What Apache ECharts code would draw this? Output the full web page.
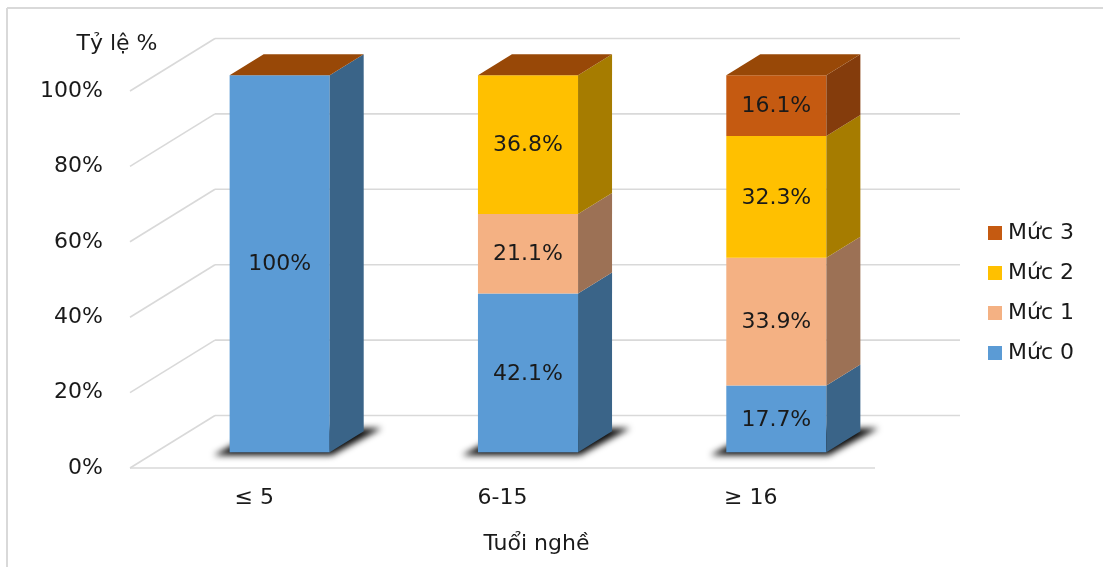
<!DOCTYPE html>
<html>
<head>
<meta charset="utf-8">
<title>Tuổi nghề</title>
<script src="https://cdn.jsdelivr.net/npm/echarts@6/dist/echarts.min.js"></script>
<style>
  html, body { margin: 0; padding: 0; background: #ffffff; }
  #chart { width: 1103px; height: 567px; }
</style>
</head>
<body>
<div id="chart"></div>
<script>
// Data
const categories = ['≤ 5', '6-15', '≥ 16'];
const seriesNames = ['Mức 0', 'Mức 1', 'Mức 2', 'Mức 3'];
const muc0 = [100, 42.1, 17.7];
const muc1 = [0, 21.1, 33.9];
const muc2 = [0, 36.8, 32.3];
const muc3 = [0, 0, 16.1];
const yTicks = [0, 20, 40, 60, 80, 100];

// Styling
const FONT = '"DejaVu Sans", Verdana, sans-serif';
const FONT_SIZE = 22;
const TEXT_COLOR = '#1a1a1a';
const GRID_COLOR = '#d9d9d9';
const frontColors = ['#5B9BD5', '#F4B183', '#FFC000', '#C55A11'];
const sideColors = ['#3A6488', '#9C7155', '#A67C00', '#843C0C'];
const topColor = '#984807';

// Oblique projection of the depth axis (pixels for the full floor depth)
const DX = 85, DY = -52.5;
const D_FRONT = 0.3, D_BACK = 0.7;   // bar depth band inside the floor
const BAR_RATIO = 0.403;             // bar width relative to category band
const SHADOW_SHIFT = 3000;           // shape drawn off-canvas, only its blurred shadow shows

const levels = [muc0, muc1, muc2, muc3];

// cumulative base of each segment
function stackedData(k) {
  return categories.map((c, i) => {
    let base = 0;
    for (let j = 0; j < k; j++) base += levels[j][i];
    return [i, levels[k][i], base];
  });
}

function fmt(v) { return v + '%'; }

function wallRender(params, api) {
  const t = api.value(1);
  const cs = params.coordSys;
  const y = api.coord([0, t])[1];
  const left = cs.x, w = cs.width;
  const lineStyle = { stroke: GRID_COLOR, lineWidth: 1.6, fill: null };
  const children = [
    { type: 'line', shape: { x1: left, y1: y, x2: left + DX, y2: y + DY }, style: lineStyle },
    { type: 'line', shape: { x1: left + DX, y1: y + DY, x2: left + DX + w, y2: y + DY }, style: lineStyle }
  ];
  if (t === 0) {
    children.push({ type: 'line', shape: { x1: left, y1: y, x2: left + w, y2: y }, style: lineStyle });
  }
  return { type: 'group', children: children };
}

function barRender(k) {
  return function (params, api) {
    const ci = api.value(0), v = api.value(1), base = api.value(2);
    const bw = api.size([1, 0])[0] * BAR_RATIO;
    const p0 = api.coord([ci, base]);
    const p1 = api.coord([ci, base + v]);
    const fx = p0[0] - bw / 2 + DX * D_FRONT;
    const fy0 = p0[1] + DY * D_FRONT;
    const fy1 = p1[1] + DY * D_FRONT;
    const ddx = DX * (D_BACK - D_FRONT), ddy = DY * (D_BACK - D_FRONT);
    const children = [];
    if (k === 0) {
      // soft shadow on the floor under each bar
      const s = SHADOW_SHIFT;
      children.push({
        type: 'polygon',
        shape: { points: [
          [fx - 16 - s, fy0 + 3], [fx + bw + 2 - s, fy0 + 3],
          [fx + bw + ddx + 18 - s, fy0 + ddy - 3], [fx + ddx - s, fy0 + ddy - 3]
        ] },
        style: { fill: '#000', shadowBlur: 6, shadowColor: 'rgba(0,0,0,0.95)', shadowOffsetX: s, shadowOffsetY: 0 },
        z2: 0
      });
    }
    if (v > 0) {
      children.push({
        type: 'rect',
        shape: { x: fx, y: fy1, width: bw, height: fy0 - fy1 },
        style: { fill: frontColors[k] },
        z2: 2
      });
      children.push({
        type: 'polygon',
        shape: { points: [[fx + bw, fy0], [fx + bw + ddx, fy0 + ddy], [fx + bw + ddx, fy1 + ddy], [fx + bw, fy1]] },
        style: { fill: sideColors[k] },
        z2: 2
      });
      children.push({
        type: 'text',
        style: {
          text: fmt(v), x: fx + bw / 2, y: (fy0 + fy1) / 2 + 1,
          align: 'center', verticalAlign: 'middle',
          font: FONT_SIZE + 'px ' + FONT, fill: TEXT_COLOR
        },
        z2: 10
      });
    }
    if (k === levels.length - 1) {
      children.push({
        type: 'polygon',
        shape: { points: [[fx, fy1], [fx + ddx, fy1 + ddy], [fx + bw + ddx, fy1 + ddy], [fx + bw, fy1]] },
        style: { fill: topColor },
        z2: 3
      });
    }
    return { type: 'group', children: children };
  };
}

const chart = echarts.init(document.getElementById('chart'));

const series = [{
  name: 'walls',
  type: 'custom',
  renderItem: wallRender,
  data: yTicks.map(t => [0, t]),
  encode: { x: 0, y: 1 },
  silent: true,
  z: 1
}];
seriesNames.forEach((name, k) => {
  series.push({
    name: name,
    type: 'custom',
    renderItem: barRender(k),
    data: stackedData(k),
    encode: { x: 0, y: 1 },
    itemStyle: { color: frontColors[k] },
    clip: false,
    z: 2
  });
});

chart.setOption({
  backgroundColor: '#ffffff',
  animation: false,
  graphic: [
    { type: 'line', shape: { x1: 7, y1: 8, x2: 1103, y2: 8 }, style: { stroke: GRID_COLOR, lineWidth: 2 }, silent: true },
    { type: 'line', shape: { x1: 7, y1: 8, x2: 7, y2: 567 }, style: { stroke: GRID_COLOR, lineWidth: 2 }, silent: true }
  ],
  grid: { left: 130, right: 228, top: 91, bottom: 99 },
  xAxis: {
    type: 'category',
    data: categories,
    axisLine: { show: false },
    axisTick: { show: false },
    axisLabel: { margin: 19, fontFamily: FONT, fontSize: FONT_SIZE, color: TEXT_COLOR },
    name: 'Tuổi nghề',
    nameLocation: 'middle',
    nameGap: 65,
    nameTextStyle: { fontFamily: FONT, fontSize: FONT_SIZE, color: TEXT_COLOR, padding: [0, 0, 0, 68] }
  },
  yAxis: {
    type: 'value',
    min: 0, max: 100, interval: 20,
    axisLine: { show: false },
    axisTick: { show: false },
    splitLine: { show: false },
    axisLabel: { margin: 27, fontFamily: FONT, fontSize: FONT_SIZE, color: TEXT_COLOR, formatter: '{value}%' },
    name: 'Tỷ lệ %',
    nameLocation: 'end',
    nameGap: 36,
    nameTextStyle: { fontFamily: FONT, fontSize: FONT_SIZE, color: TEXT_COLOR, padding: [0, 26, 0, 0] }
  },
  legend: {
    orient: 'vertical',
    left: 983,
    top: 217,
    data: ['Mức 3', 'Mức 2', 'Mức 1', 'Mức 0'],
    icon: 'rect',
    itemWidth: 14,
    itemHeight: 14,
    itemGap: 18,
    textStyle: { fontFamily: FONT, fontSize: FONT_SIZE, color: TEXT_COLOR, padding: [0, 0, 0, 1] }
  },
  series: series
});
</script>
</body>
</html>
